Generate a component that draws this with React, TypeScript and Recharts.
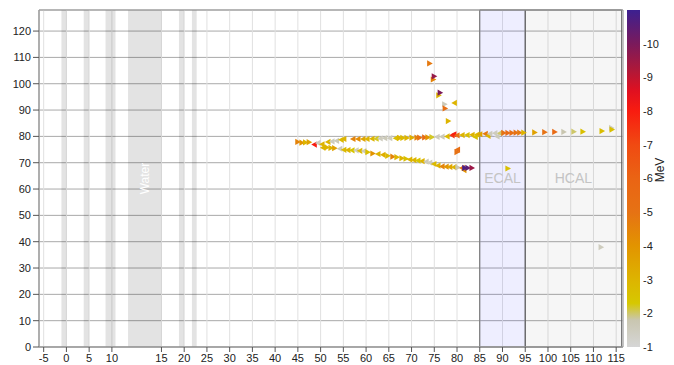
import React from 'react';
import { ScatterChart, Scatter, XAxis, YAxis, CartesianGrid, ReferenceArea } from 'recharts';

// ---------- axis / layout values ----------
const xTickValues = [-5, 0, 5, 10, 15, 20, 25, 30, 35, 40, 45, 50, 55, 60, 65, 70, 75, 80, 85, 90, 95, 100, 105, 110, 115];
const yTickValues = [0, 10, 20, 30, 40, 50, 60, 70, 80, 90, 100, 110, 120];
const energyTickValues = [-10, -9, -8, -7, -6, -5, -4, -3, -2, -1];

const xRange: [number, number] = [-6.03, 116.5];
const yRange: [number, number] = [0, 128];
const energyRange: [number, number] = [-11, -1];

// detector layers (true x units)
const layerBands: [number, number][] = [[-1.1, 0], [3.8, 4.95], [8.6, 10.8], [18.85, 19.95], [21.7, 22.75]];
const waterRange: [number, number] = [13.55, 15];
const ecalRange: [number, number] = [85, 95];
const hcalRange: [number, number] = [95, 116.2];

// ---------- hits: [x, y, energy (MeV), direction] ----------
type Hit = [number, number, number, string];

const upperTrack: Hit[] = [
  [45.0, 77.9, -4.5, 'R'], [45.9, 77.6, -4.0, 'R'], [46.7, 77.7, -3.0, 'R'], [47.5, 77.8, -3.5, 'R'],
  [48.6, 76.9, -8.0, 'L'], [49.4, 77.5, -1.5, 'L'], [50.3, 77.0, -3.0, 'L'], [51.6, 77.9, -3.0, 'L'],
  [52.5, 78.1, -1.5, 'L'], [53.5, 78.3, -1.6, 'L'], [54.5, 78.7, -2.8, 'L'], [55.1, 79.0, -3.0, 'L'],
  [57.1, 79.0, -4.5, 'L'], [58.2, 79.0, -4.2, 'L'], [59.3, 79.0, -3.5, 'L'], [60.2, 79.0, -3.0, 'L'],
  [61.3, 79.1, -3.0, 'L'], [62.2, 79.1, -2.2, 'L'], [63.1, 79.2, -1.5, 'L'], [64.1, 79.3, -1.6, 'L'],
  [65.2, 79.3, -1.5, 'L'], [66.5, 79.3, -2.6, 'L'], [67.4, 79.4, -3.0, 'R'], [68.1, 79.4, -2.8, 'R'],
  [69.0, 79.4, -3.0, 'R'], [70.1, 79.5, -3.2, 'R'], [71.2, 79.5, -4.5, 'R'], [71.8, 79.5, -5.0, 'R'],
  [72.9, 79.6, -5.5, 'R'], [73.6, 79.6, -4.0, 'R'], [74.5, 79.7, -2.2, 'R'], [75.6, 79.8, -1.5, 'L'],
  [76.7, 79.9, -1.6, 'L'], [77.8, 80.0, -2.8, 'L'], [78.9, 80.4, -7.5, 'L'], [79.3, 80.8, -8.0, 'L'],
  [80.0, 80.4, -5.0, 'L'], [81.1, 80.5, -3.0, 'L'], [82.2, 80.5, -2.6, 'L'], [83.3, 80.6, -3.0, 'L'],
  [84.0, 79.8, -2.5, 'L'], [84.4, 80.7, -2.8, 'L'], [85.0, 80.8, -3.5, 'L'], [86.2, 81.0, -4.8, 'L'],
  [86.8, 80.2, -3.0, 'L'], [87.2, 81.0, -1.6, 'L'], [88.3, 81.2, -1.5, 'L'], [88.8, 80.0, -1.6, 'L'],
  [89.4, 81.2, -2.0, 'L'], [90.3, 81.3, -5.0, 'R'], [91.2, 81.3, -5.5, 'R'], [92.1, 81.3, -5.2, 'R'],
  [93.0, 81.4, -5.0, 'R'], [93.8, 81.4, -4.8, 'R'], [94.7, 81.4, -3.0, 'R'], [97.1, 81.5, -3.6, 'R'],
  [99.3, 81.6, -5.0, 'R'], [101.5, 81.7, -5.6, 'R'], [103.5, 81.7, -1.8, 'R'], [105.7, 81.8, -2.0, 'R'],
  [107.7, 81.8, -2.6, 'R'], [111.9, 82.0, -2.7, 'R'], [114.0, 83.2, -1.5, 'R'], [114.1, 82.6, -2.6, 'R'],
];

const lowerTrack: Hit[] = [
  [50.5, 75.7, -3.0, 'L'], [51.4, 75.8, -3.0, 'R'], [52.3, 75.6, -3.0, 'R'], [53.1, 75.5, -3.6, 'R'],
  [54.2, 75.3, -1.6, 'L'], [55.1, 74.9, -2.8, 'L'], [56.0, 74.8, -3.0, 'L'], [56.9, 74.7, -2.4, 'L'],
  [57.8, 74.7, -1.5, 'L'], [58.6, 74.5, -2.8, 'L'], [59.5, 74.4, -1.6, 'L'], [60.4, 74.0, -2.6, 'R'],
  [61.5, 73.5, -4.0, 'R'], [62.6, 73.3, -3.0, 'L'], [63.7, 73.0, -3.2, 'L'], [64.8, 72.6, -2.8, 'R'],
  [65.9, 72.3, -4.5, 'R'], [66.8, 72.1, -3.0, 'R'], [67.9, 71.7, -3.0, 'R'], [68.8, 71.5, -2.6, 'R'],
  [69.6, 71.2, -3.0, 'L'], [70.5, 71.0, -3.0, 'L'], [71.4, 70.8, -2.4, 'L'], [72.3, 70.6, -3.0, 'L'],
  [73.2, 70.4, -1.6, 'L'], [74.0, 70.0, -1.5, 'L'], [74.9, 69.5, -2.8, 'L'], [75.8, 68.9, -3.0, 'L'],
  [76.7, 68.6, -4.5, 'L'], [77.6, 68.5, -4.0, 'L'], [78.4, 68.4, -3.5, 'L'], [79.3, 68.3, -3.0, 'L'],
  [80.2, 68.2, -1.8, 'R'], [81.5, 67.2, -4.0, 'L'], [81.1, 68.0, -5.0, 'L'], [81.7, 68.0, -10.8, 'R'],
  [82.4, 68.0, -10.5, 'R'], [83.3, 68.0, -9.5, 'R'],
];

const kinkHits: Hit[] = [
  [74.0, 107.7, -4.8, 'R'], [74.8, 101.6, -4.5, 'R'], [75.0, 102.8, -9.6, 'R'], [76.0, 95.6, -3.0, 'R'],
  [76.3, 96.6, -10.0, 'R'], [77.3, 92.2, -1.6, 'R'], [77.4, 90.6, -5.2, 'R'], [79.4, 92.7, -3.0, 'L'],
  [78.1, 85.8, -3.0, 'R'], [80.0, 74.0, -5.0, 'R'], [80.1, 75.0, -5.2, 'L'],
];

const strayHits: Hit[] = [
  [91.2, 67.8, -2.6, 'R'], [111.7, 37.9, -1.5, 'R'],
];

// colour map: [|energy|, colour]
const colorStops: [number, string][] = [
  [1.0, '#d6d6d6'], [1.8, '#c9c6b0'], [2.3, '#d6c800'], [3.0, '#ddb400'], [4.0, '#e29400'],
  [5.0, '#e67214'], [6.0, '#ea6414'], [7.0, '#f04a12'], [8.0, '#f81c10'], [8.6, '#e01020'],
  [9.2, '#b01838'], [10.0, '#7a1a5c'], [11.0, '#3c2090'],
];

// ---------- helpers ----------
const WATER_GAP = 5.9;
function toDisplay(v: number): number {
  const [w0, w1] = waterRange;
  if (v <= w0) return v;
  if (v >= w1) return v + WATER_GAP;
  return w0 + ((v - w0) * (w1 + WATER_GAP - w0)) / (w1 - w0);
}
function tickLabel(d: number): string {
  let best = xTickValues[0];
  for (const t of xTickValues) if (Math.abs(toDisplay(t) - d) < Math.abs(toDisplay(best) - d)) best = t;
  return String(best);
}
function hex(c: string): number[] {
  return [1, 3, 5].map((i) => parseInt(c.slice(i, i + 2), 16));
}
function energyColor(e: number): string {
  const m = Math.abs(e);
  if (m <= colorStops[0][0]) return colorStops[0][1];
  for (let i = 1; i < colorStops.length; i++) {
    const [v1, c1] = colorStops[i];
    const [v0, c0] = colorStops[i - 1];
    if (m <= v1) {
      const t = (m - v0) / (v1 - v0);
      const a = hex(c0);
      const b = hex(c1);
      return `rgb(${a.map((x, k) => Math.round(x + (b[k] - x) * t)).join(',')})`;
    }
  }
  return colorStops[colorStops.length - 1][1];
}

const toPoints = (hits: Hit[]) => hits.map(([x, y, e, d]) => ({ x: toDisplay(x), y, e, d }));

const Tri = (props: any) => {
  const { cx, cy, payload } = props;
  if (cx == null || cy == null) return null;
  const w = 2.6;
  const h = 3.1;
  const pts =
    payload.d === 'R'
      ? `${cx - w},${cy - h} ${cx + w + 0.4},${cy} ${cx - w},${cy + h}`
      : `${cx + w},${cy - h} ${cx - w - 0.4},${cy} ${cx + w},${cy + h}`;
  return <polygon points={pts} fill={energyColor(payload.e)} />;
};

const W = 674;
const H = 365;
const PLOT_TOP = 10;
const PLOT_BOTTOM = 347;

export default function App() {
  const axisFont = { fontSize: 11, fill: '#222' };
  const xDomain: [number, number] = [toDisplay(xRange[0]), toDisplay(xRange[1])];
  const gradStops = colorStops.map(([v, c]) => ({
    off: (v - 1) / (Math.abs(energyRange[0]) - 1),
    c,
  }));
  return (
    <div style={{ position: 'absolute', left: 0, top: 0, width: W, height: H, fontFamily: '"Liberation Sans", Arial, sans-serif' }}>
      <ScatterChart width={W} height={H} margin={{ top: PLOT_TOP, right: 0, bottom: 0, left: 0 }}>
        <CartesianGrid vertical={false} stroke="#a9a9a9" />
        <CartesianGrid horizontal={false} stroke="#e0e0e0" />
        <XAxis
          type="number"
          dataKey="x"
          domain={xDomain}
          ticks={xTickValues.map(toDisplay)}
          tickFormatter={tickLabel}
          interval={0}
          allowDataOverflow
          height={H - PLOT_BOTTOM}
          tick={axisFont}
          tickSize={5}
          tickLine={{ stroke: '#555' }}
          axisLine={{ stroke: '#999' }}
        />
        <YAxis
          type="number"
          dataKey="y"
          domain={yRange}
          ticks={yTickValues}
          interval={0}
          allowDataOverflow
          width={39}
          tick={axisFont}
          tickSize={6}
          tickLine={{ stroke: '#555' }}
          axisLine={{ stroke: '#999' }}
        />
        <YAxis
          yAxisId="cb"
          orientation="right"
          type="number"
          domain={energyRange}
          reversed
          ticks={energyTickValues}
          interval={0}
          allowDataOverflow
          width={51}
          tick={axisFont}
          tickSize={0}
          tickMargin={20}
          axisLine={false}
          tickLine={false}
        />
        {layerBands.map(([a, b], i) => (
          <ReferenceArea key={i} x1={toDisplay(a)} x2={toDisplay(b)} y1={yRange[0]} y2={yRange[1]} fill="#000" fillOpacity={0.11} stroke="none" />
        ))}
        <ReferenceArea
          x1={toDisplay(waterRange[0])}
          x2={toDisplay(waterRange[1])}
          y1={yRange[0]}
          y2={yRange[1]}
          fill="#000"
          fillOpacity={0.11}
          stroke="none"
          label={{ value: 'Water', angle: -90, position: 'center', fill: '#ffffff', fontSize: 12 }}
        />
        <ReferenceArea
          x1={toDisplay(ecalRange[0])}
          x2={toDisplay(ecalRange[1])}
          y1={yRange[0]}
          y2={yRange[1]}
          fill="#0000ff"
          fillOpacity={0.065}
          stroke="#666"
          label={{ value: 'ECAL', position: 'center', fill: '#c4c4c4', fontSize: 14 }}
        />
        <ReferenceArea
          x1={toDisplay(hcalRange[0])}
          x2={toDisplay(hcalRange[1])}
          y1={yRange[0]}
          y2={yRange[1]}
          fill="#000"
          fillOpacity={0.035}
          stroke="#666"
          label={{ value: 'HCAL', position: 'center', fill: '#c4c4c4', fontSize: 14 }}
        />
        <ReferenceArea x1={xDomain[0]} x2={xDomain[1]} y1={yRange[0]} y2={yRange[1]} fill="none" stroke="#999" />
        <Scatter data={toPoints(upperTrack)} shape={Tri} isAnimationActive={false} />
        <Scatter data={toPoints(lowerTrack)} shape={Tri} isAnimationActive={false} />
        <Scatter data={toPoints(kinkHits)} shape={Tri} isAnimationActive={false} />
        <Scatter data={toPoints(strayHits)} shape={Tri} isAnimationActive={false} />
      </ScatterChart>
      <svg width={W} height={H} style={{ position: 'absolute', left: 0, top: 0, pointerEvents: 'none' }}>
        <defs>
          <linearGradient id="cbGrad" x1="0" y1="1" x2="0" y2="0">
            {gradStops.map((s, i) => (
              <stop key={i} offset={s.off} stopColor={s.c} />
            ))}
          </linearGradient>
        </defs>
        <rect x={627} y={PLOT_TOP} width={13} height={PLOT_BOTTOM - PLOT_TOP} fill="url(#cbGrad)" />
        <text transform="translate(664,170) rotate(-90)" textAnchor="middle" fontSize={12} fill="#222" fontFamily='"Liberation Sans", Arial, sans-serif'>
          MeV
        </text>
      </svg>
    </div>
  );
}
